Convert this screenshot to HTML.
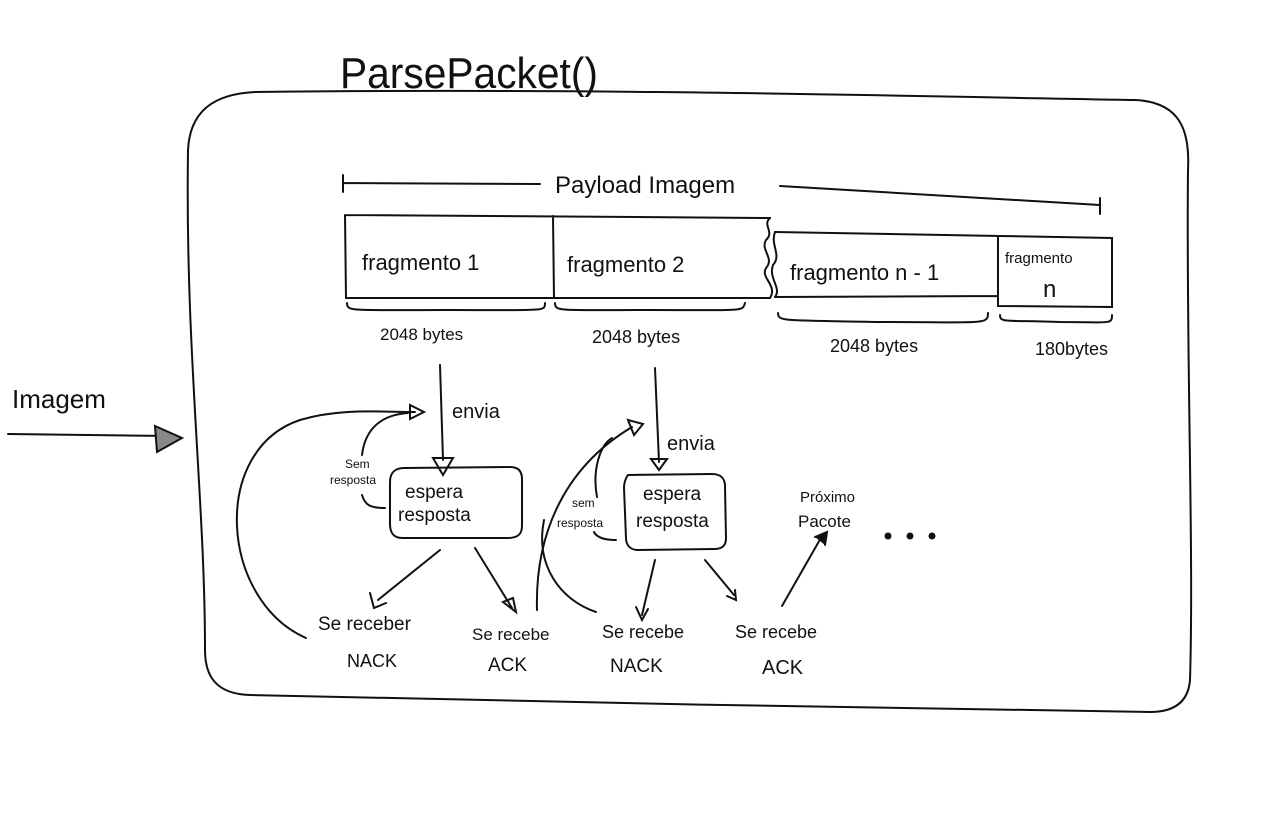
<!DOCTYPE html>
<html><head><meta charset="utf-8"><style>
html,body{margin:0;padding:0;background:#fff;}
svg{display:block}
text{font-family:"Liberation Sans",sans-serif;fill:#111;}
</style></head><body>
<svg width="1280" height="840" viewBox="0 0 1280 840" xmlns="http://www.w3.org/2000/svg">
<g fill="none" stroke="#111" stroke-width="2" stroke-linecap="round">
<path d="M255 92 C600 88 900 96 1135 100 C1180 102 1190 130 1188 170 C1186 350 1194 550 1190 680 C1188 705 1170 712 1150 712 C900 710 500 700 250 695 C215 694 205 675 205 650 C205 500 185 350 188 150 C190 110 215 94 255 92 Z"/>
<path d="M343 175 L343 192 M343 183 L540 184"/>
<path d="M780 186 L1100 205 M1100 198 L1100 214"/>
<path d="M345 215 L770 218 M345 215 L346 298 L770 298 M553 216 L554 298"/>
<path d="M775 232 L1000 236 L1112 238 L1112 307 L998 306 L998 236 M775 297 L998 296"/>
<path d="M770 218 C762 225 775 232 766 240 C760 250 775 258 766 268 C760 278 778 285 770 298"/>
<path d="M775 232 C770 245 782 255 773 265 C768 278 782 288 775 297"/>
<path d="M347 303 C347 312 352 310 448 310 C545 310 545 312 545 303"/>
<path d="M555 303 C555 312 560 310 650 310 C745 310 742 312 745 303"/>
<path d="M778 313 C778 322 785 320 880 322 C985 322 988 325 988 313"/>
<path d="M1000 315 C1000 323 1005 320 1060 322 C1110 322 1112 325 1112 315"/>
<path d="M8 434 L170 436"/>
<path d="M155 426 L182 438 L157 452 Z" fill="#888"/>
<!-- left chain -->
<path d="M440 365 L443 460"/>
<path d="M433 458 L453 458 L443 475 Z"/>
<path d="M404 468 L510 467 C518 467 522 471 522 479 L522 526 C522 534 518 538 508 538 L402 538 C394 538 390 533 390 524 L390 482 C390 473 395 468 404 468 Z"/>
<path d="M385 508 C370 508 365 505 362 495 M362 455 C365 430 380 415 408 413"/>
<path d="M410 405 L424 412 L410 419 Z"/>
<path d="M306 638 C220 600 210 450 300 420 C340 408 380 412 415 412"/>
<path d="M440 550 L378 600"/>
<path d="M370 593 L374 608 L386 603"/>
<path d="M475 548 L512 608"/>
<path d="M503 602 L516 612 L513 598 Z"/>
<!-- right chain -->
<path d="M655 368 L659 462"/>
<path d="M651 459 L667 459 L659 470 Z"/>
<path d="M628 475 L712 474 C720 474 725 478 725 486 L726 538 C726 546 722 549 714 549 L638 550 C630 550 626 545 626 538 L624 488 C624 480 628 475 628 475 Z"/>
<path d="M616 540 C605 540 597 538 594 532 M597 497 C592 470 600 445 612 438"/>
<path d="M537 610 C535 540 560 470 632 427"/>
<path d="M628 420 L643 424 L634 435 Z"/>
<path d="M596 612 C560 600 535 565 544 520"/>
<path d="M655 560 L642 615"/>
<path d="M636 607 L642 620 L648 609"/>
<path d="M705 560 L734 595"/>
<path d="M727 596 L736 600 L735 590"/>
<path d="M782 606 L822 536"/>
<path d="M815 537 L827 532 L825 545" fill="#111"/>
</g>
<g fill="#111">
<circle cx="888" cy="536" r="3.5"/><circle cx="910" cy="536" r="3.5"/><circle cx="932" cy="536" r="3.5"/>
</g>
<text x="340" y="88" font-size="44" textLength="258" lengthAdjust="spacingAndGlyphs">ParsePacket()</text>
<text x="555" y="193" font-size="24">Payload Imagem</text>
<text x="362" y="270" font-size="22">fragmento 1</text>
<text x="567" y="272" font-size="22">fragmento 2</text>
<text x="790" y="280" font-size="22">fragmento n - 1</text>
<text x="1005" y="263" font-size="15">fragmento</text>
<text x="1043" y="297" font-size="24">n</text>
<text x="380" y="340" font-size="17">2048 bytes</text>
<text x="592" y="343" font-size="18">2048 bytes</text>
<text x="830" y="352" font-size="18">2048 bytes</text>
<text x="1035" y="355" font-size="18">180bytes</text>
<text x="12" y="408" font-size="26">Imagem</text>
<text x="452" y="418" font-size="20">envia</text>
<text x="667" y="450" font-size="20">envia</text>
<text x="345" y="468" font-size="12">Sem</text>
<text x="330" y="484" font-size="12">resposta</text>
<text x="572" y="507" font-size="12">sem</text>
<text x="557" y="527" font-size="12">resposta</text>
<text x="405" y="498" font-size="19">espera</text>
<text x="398" y="521" font-size="19">resposta</text>
<text x="643" y="500" font-size="19">espera</text>
<text x="636" y="527" font-size="19">resposta</text>
<text x="800" y="502" font-size="15">Próximo</text>
<text x="798" y="527" font-size="17">Pacote</text>
<text x="318" y="630" font-size="19">Se receber</text>
<text x="472" y="640" font-size="17">Se recebe</text>
<text x="602" y="638" font-size="18">Se recebe</text>
<text x="735" y="638" font-size="18">Se recebe</text>
<text x="347" y="667" font-size="18">NACK</text>
<text x="488" y="671" font-size="19">ACK</text>
<text x="610" y="672" font-size="19">NACK</text>
<text x="762" y="674" font-size="20">ACK</text>
</svg>
</body></html>
